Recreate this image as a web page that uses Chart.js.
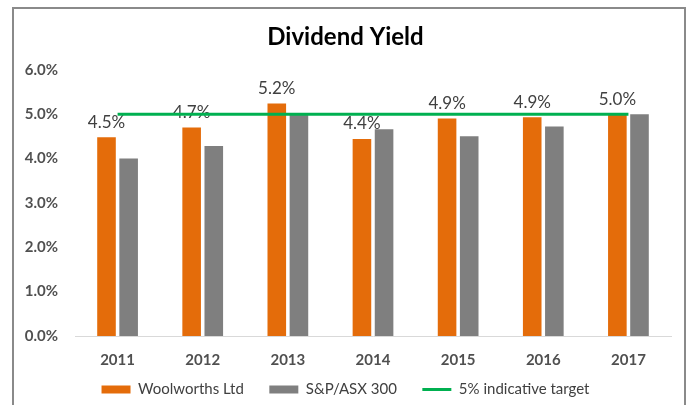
<!DOCTYPE html>
<html>
<head>
<meta charset="utf-8">
<script src="https://cdn.jsdelivr.net/npm/chart.js@4"></script>
<style>
  html, body { margin: 0; padding: 0; background: #fff; overflow: hidden; }
  body { width: 690px; height: 405px; position: relative; }
  #frame {
    position: absolute; left: 12px; top: 7px;
    width: 670px; height: 430px;
    border: 2px solid #8a8a8a;
  }
  #wrap { position: absolute; left: 0; top: 0; width: 670px; height: 398px; }
</style>
</head>
<body>
<div id="frame"><div id="wrap"><canvas id="chart1"></canvas></div></div>
<script>
const years = ['2011', '2012', '2013', '2014', '2015', '2016', '2017'];
const woolworths = [4.48, 4.70, 5.24, 4.44, 4.90, 4.93, 5.00];
const asx300 = [4.00, 4.28, 5.00, 4.66, 4.50, 4.72, 5.00];
const target = [5, 5, 5, 5, 5, 5, 5];
const yTicks = [0, 1, 2, 3, 4, 5, 6];

const font = "Lato, 'Liberation Sans', sans-serif";

// value labels above the Woolworths bars (drawn before the target line)
const barLabels = {
  id: 'barLabels',
  afterDatasetDraw(chart, args) {
    if (args.index !== 0) return;
    const ctx = chart.ctx;
    ctx.save();
    ctx.font = '17px ' + font;
    ctx.fillStyle = '#404040';
    ctx.textAlign = 'center';
    ctx.textBaseline = 'middle';
    args.meta.data.forEach((el, i) => {
      ctx.fillText(woolworths[i].toFixed(1) + '%', el.x, el.y - 15);
    });
    ctx.restore();
  }
};

const ctx1 = document.getElementById('chart1').getContext('2d');

const myChart = new Chart(ctx1, {
  type: 'bar',
  data: {
    labels: years,
    datasets: [{
      label: 'Woolworths Ltd',
      data: woolworths,
      backgroundColor: '#E46C0A',
      pointStyle: 'rect',
      order: 1
    }, {
      label: 'S&P/ASX 300',
      data: asx300,
      backgroundColor: '#7F7F7F',
      pointStyle: 'rect',
      order: 1
    }, {
      type: 'line',
      label: '5% indicative target',
      data: target,
      borderColor: '#00B050',
      backgroundColor: '#00B050',
      borderWidth: 3,
      pointRadius: 0,
      pointStyle: 'line',
      order: 0
    }]
  },
  options: {
    responsive: true,
    maintainAspectRatio: false,
    animation: false,
    datasets: {
      bar: { categoryPercentage: 0.52, barPercentage: 0.84 }
    },
    layout: { padding: { left: 6, right: 13, top: 0, bottom: 0 } },
    plugins: {
      title: {
        display: true,
        text: 'Dividend Yield',
        color: '#000',
        font: { family: font, size: 24, weight: 'bold' },
        padding: { top: 14, bottom: 18 }
      },
      legend: {
        position: 'bottom',
        labels: {
          usePointStyle: true,
          pointStyleWidth: 29,
          boxHeight: 8,
          color: '#404040',
          font: { family: font, size: 15 },
          padding: 14,
          sort: (a, b) => a.datasetIndex - b.datasetIndex,
          generateLabels: chart => {
            const items = Chart.defaults.plugins.legend.labels.generateLabels(chart);
            // wider gaps between entries, like the original
            items.forEach(it => { if (it.datasetIndex < 2) it.text += '   '; });
            return items;
          }
        }
      },
      tooltip: { enabled: false }
    },
    scales: {
      x: {
        afterFit: s => { s.height -= 16; },
        grid: { display: false, drawTicks: false },
        border: { color: '#d9d9d9', width: 1 },
        ticks: { color: '#505050', font: { family: font, size: 15, weight: 'bold' }, padding: 15 }
      },
      y: {
        min: 0,
        max: 6,
        afterFit: s => { s.width = 55; },
        afterBuildTicks: s => { s.ticks = yTicks.map(v => ({ value: v })); },
        grid: { display: false, drawTicks: false },
        border: { display: false },
        ticks: {
          color: '#505050',
          font: { family: font, size: 15, weight: 'bold' },
          padding: 17,
          callback: v => v.toFixed(1) + '%'
        }
      }
    }
  },
  plugins: [barLabels]
});
</script>
</body>
</html>
